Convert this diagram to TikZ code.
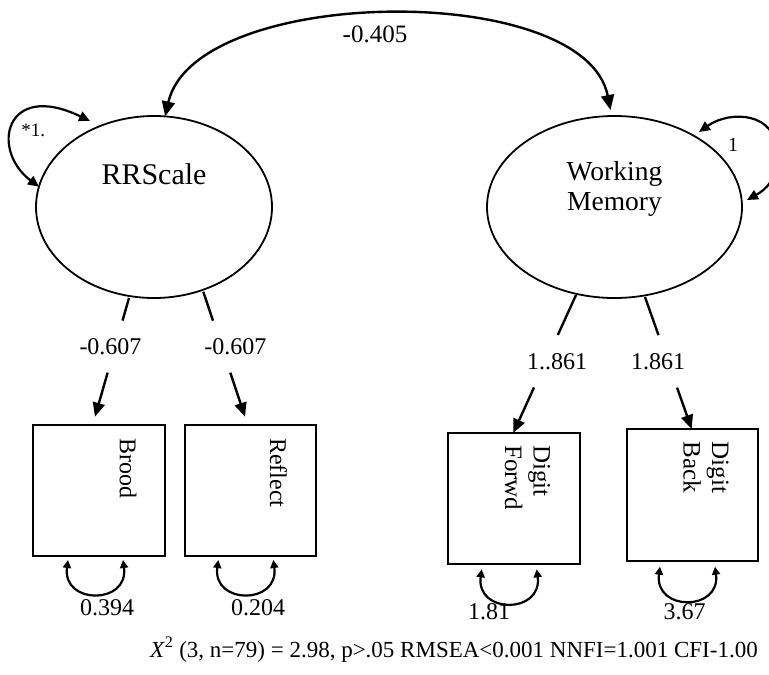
\documentclass[tikz,border=0pt]{standalone}
\usepackage{fontspec}
\setmainfont{Liberation Serif}
\usetikzlibrary{shapes.geometric,arrows.meta,calc}
\begin{document}
\begin{tikzpicture}[x=1pt,y=-1pt,
  lat/.style={ellipse, draw, line width=1.8pt, inner sep=0pt, outer sep=0pt},
  obs/.style={draw, line width=2pt, inner sep=0pt, outer sep=0pt},
  seg/.style={line width=2.4pt},
  arr/.style={line width=2.4pt, -{Triangle[length=14pt,width=12pt]}},
  dbl/.style={line width=2.4pt, {Triangle[length=15pt,width=13pt]}-{Triangle[length=15pt,width=13pt]}},
  selfl/.style={line width=2.2pt, {Triangle[length=11pt,width=10pt]}-{Triangle[length=11pt,width=10pt]}},
  varl/.style={line width=2.2pt, {Triangle[length=8pt,width=8pt]}-{Triangle[length=8pt,width=8pt]}},
  lab/.style={font=\fontsize{24}{28}\selectfont, inner sep=0pt},
  vtext/.style={rotate=-90, anchor=west, inner sep=0pt, align=left, font=\fontsize{24}{28.4}\selectfont}
]
\useasboundingbox (0,0) rectangle (769,675);
\clip (0,0) rectangle (769,675);

% latent variables
\node[lat, minimum width=236pt, minimum height=182pt] (rr) at (154,207) {};
\node[lat, minimum width=255pt, minimum height=182pt] (wm) at (614.5,207) {};
\node[font=\fontsize{30}{34}\selectfont, inner sep=0pt] (rrt) at (154,174) {RRScale};
\node[font=\fontsize{27.5}{30}\selectfont, align=center, inner sep=0pt] (wmt) at (614.5,188.6) {Working\\Memory};

% observed variables
\node[obs, minimum width=132pt, minimum height=131pt] (brood) at (99,490.5) {};
\node[obs, minimum width=131pt, minimum height=131pt] (refl) at (250.5,490.5) {};
\node[obs, minimum width=132pt, minimum height=131pt] (forwd) at (514,498.5) {};
\node[obs, minimum width=131pt, minimum height=132pt] (back) at (692.5,495) {};
\node[vtext] (broodt) at (128,438) {Brood};
\node[vtext] (reflt) at (278.5,438) {Reflect};
\node[vtext, font=\fontsize{25}{28.4}\selectfont] (forwdt) at (527.5,445) {Digit\\Forwd};
\node[vtext, font=\fontsize{25}{28.4}\selectfont] (backt) at (706,441.7) {Digit\\Back};

% covariance
\coordinate (wmtop) at ($(wm.north)+(-4,-6)$);
\draw[dbl] (rr.83) .. controls (195,-15) and (585,-20) .. (wmtop);
\node[lab, font=\fontsize{25}{28}\selectfont] (cov) at (375,34) {-0.405};

% self loops on latents
\coordinate (rrl1) at ($(rr.center)+(-64,-86)$);
\draw[selfl] (rr.170) .. controls (-10,150) and (5,80) .. (rrl1);
\node[lab, font=\fontsize{19}{22}\selectfont] (rrv) at (33.3,130) {*1.};
\coordinate (wml1) at ($(wm.center)+(84.5,-75)$);
\coordinate (wml2) at ($(wm.center)+(132.5,-7)$);
\draw[selfl] (wml1) .. controls (730,110) and (776,112) .. (777,152) .. controls (778,180) and (765,190) .. (wml2);
\node[lab, font=\fontsize{20}{24}\selectfont] (wmv) at (733,145) {1};

% loadings
\coordinate (a1) at ($(rr.center)+(-25,91)$);
\coordinate (b1) at ($(brood.north)+(-4,-8.3)$);
\path (a1) -- (b1) coordinate[pos=0.19] (e1) coordinate[pos=0.629] (s1);
\draw[seg] (a1) -- (e1);
\draw[arr] (s1) -- (b1);
\node[lab] (l1) at (110.5,346.7) {-0.607};

\coordinate (a2) at ($(rr.center)+(49.3,84.7)$);
\coordinate (b2) at ($(refl.north)+(-5.5,-8.3)$);
\path (a2) -- (b2) coordinate[pos=0.232] (e2) coordinate[pos=0.648] (s2);
\draw[seg] (a2) -- (e2);
\draw[arr] (s2) -- (b2);
\node[lab] (l2) at (235.3,346.7) {-0.607};

\coordinate (a3) at ($(wm.center)+(-38.5,88)$);
\coordinate (b3) at ($(forwd.north)+(-0.7,0)$);
\path (a3) -- (b3) coordinate[pos=0.29] (e3) coordinate[pos=0.67] (s3);
\draw[seg] (a3) -- (e3);
\draw[arr] (s3) -- (b3);
\node[lab] (l3) at (557,362) {1..861};

\coordinate (a4) at ($(wm.center)+(30.5,90)$);
\coordinate (b4) at ($(back.north)+(-0.8,0)$);
\path (a4) -- (b4) coordinate[pos=0.289] (e4) coordinate[pos=0.687] (s4);
\draw[seg] (a4) -- (e4);
\draw[arr] (s4) -- (b4);
\node[lab] (l4) at (658,362) {1.861};

% error variances
\draw[varl] ($(brood.south)+(-31,4)$) .. controls +(-6,45) and +(6,45) .. ($(brood.south)+(24,4)$);
\node[lab] (v1) at (107,608) {0.394};
\draw[varl] ($(refl.south)+(-32.2,4)$) .. controls +(-6,45) and +(6,45) .. ($(refl.south)+(22.8,4)$);
\node[lab] (v2) at (258,608) {0.204};
\draw[varl] ($(forwd.south)+(-32.3,5.3)$) .. controls +(-6,45) and +(6,45) .. ($(forwd.south)+(22.7,5.3)$);
\node[lab] (v3) at (489,611.7) {1.81};
\draw[varl] ($(back.south)+(-32.5,5.7)$) .. controls +(-6,45) and +(6,45) .. ($(back.south)+(22.5,5.7)$);
\node[lab] (v4) at (684.7,612) {3.67};

% fit statistics
\node[anchor=base, inner sep=0pt, font=\fontsize{23}{27}\selectfont] (fit) at (454,657) {\textit{X}\textsuperscript{2} (3, n=79) = 2.98, p>.05 RMSEA<0.001 NNFI=1.001 CFI-1.00};
\end{tikzpicture}
\end{document}
